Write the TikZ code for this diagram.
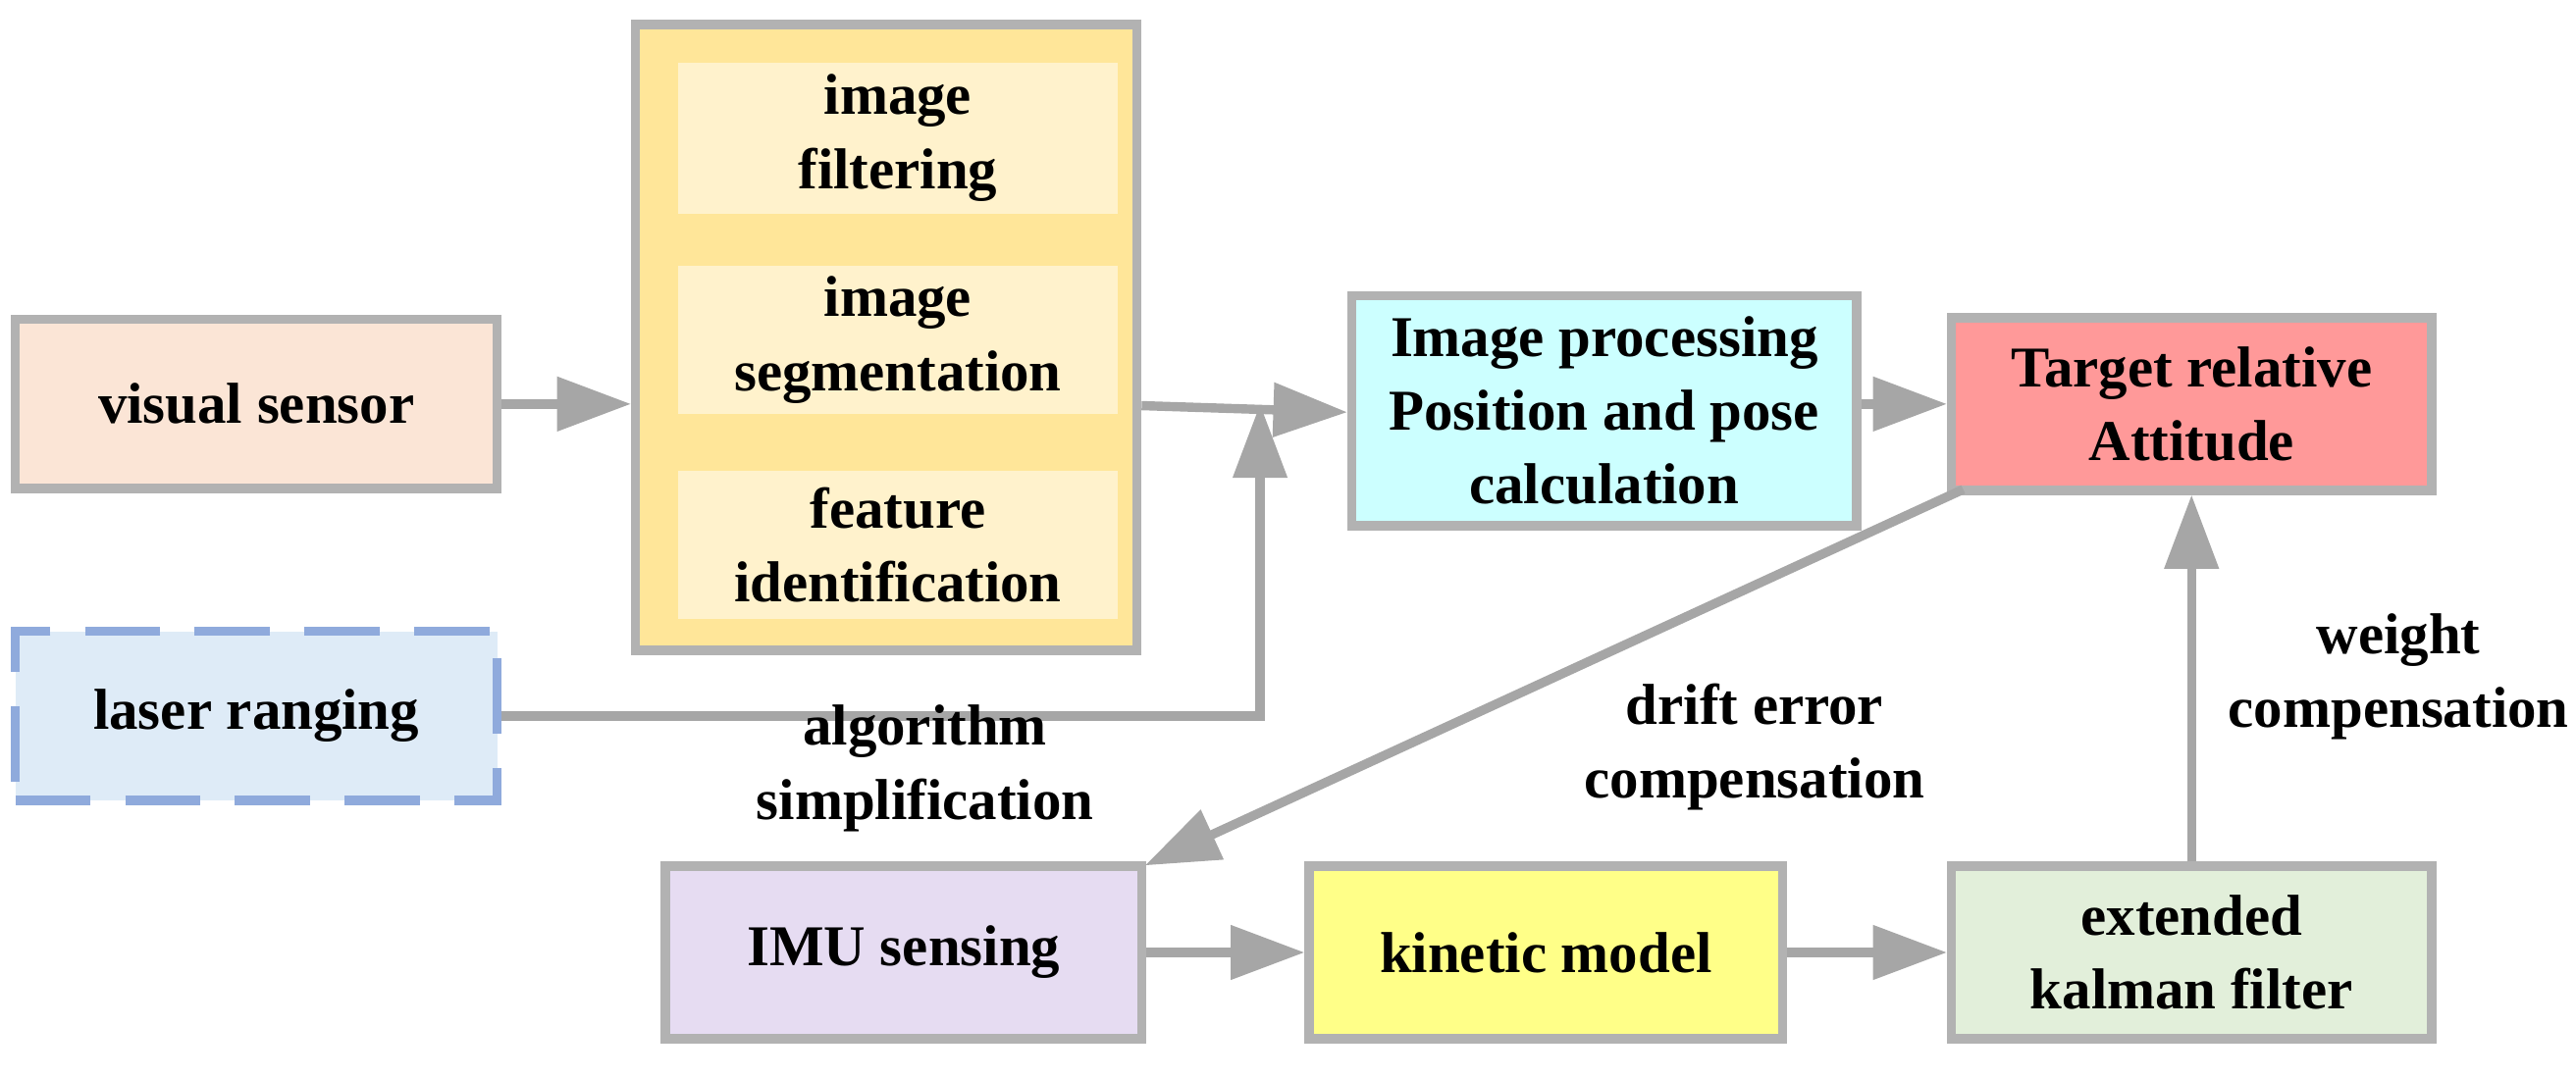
\documentclass[tikz,border=0pt]{standalone}
\usepackage{fontspec}
\setmainfont{Liberation Serif}
\usetikzlibrary{arrows.meta}
\begin{document}
\begin{tikzpicture}[x=0.01cm,y=-0.01cm,
 box/.style={draw=black!30,line width=1.6pt,inner sep=0pt,align=center,font=\fontsize{10}{12.8}\selectfont\bfseries},
 inner/.style={inner sep=0pt,align=center,font=\fontsize{10}{12.8}\selectfont\bfseries},
 arr/.style={draw=black!35,line width=1.6pt,-{Triangle[length=0.45cm,width=0.32cm]}},
 lab/.style={align=center,font=\fontsize{10}{12.8}\selectfont\bfseries}]
\useasboundingbox (0,0) rectangle (1568,656);
\definecolor{peach}{HTML}{FBE5D6}\definecolor{lblue}{HTML}{DEEBF7}\definecolor{dblue}{HTML}{8FAADC}
\definecolor{ybig}{HTML}{FFE699}\definecolor{ysmall}{HTML}{FFF2CC}
\definecolor{cyan1}{HTML}{CCFFFF}\definecolor{red1}{HTML}{FF9999}
\definecolor{purp}{HTML}{E6DCF2}\definecolor{yel}{HTML}{FFFF88}\definecolor{grn}{HTML}{E2EFDA}
\node[box,fill=peach,minimum width=2.93cm,minimum height=1.03cm] (vs) at (156,246) {visual sensor};
\node[box,fill=lblue,draw=dblue,dash pattern=on 13pt off 6pt,minimum width=2.93cm,minimum height=1.03cm] (lr) at (156,436) {laser ranging};
\node[box,fill=ybig,minimum width=3.05cm,minimum height=3.81cm] (big) at (539.5,205.5) {};
\node[inner,fill=ysmall,minimum width=2.67cm,minimum height=0.92cm] (f1) at (546.5,84) {image\\filtering};
\node[inner,fill=ysmall,minimum width=2.67cm,minimum height=0.90cm] (f2) at (546.5,207) {image\\segmentation};
\node[inner,fill=ysmall,minimum width=2.67cm,minimum height=0.90cm] (f3) at (546.5,332) {feature\\identification};
\node[box,fill=cyan1,minimum width=3.07cm,minimum height=1.40cm] (ip) at (976.5,250) {Image processing\\Position and pose\\calculation};
\node[box,fill=red1,minimum width=2.92cm,minimum height=1.05cm] (ta) at (1334,246) {Target relative\\Attitude};
\node[box,fill=purp,minimum width=2.90cm,minimum height=1.05cm] (imu) at (550,580) {IMU sensing};
\node[box,fill=yel,minimum width=2.88cm,minimum height=1.05cm] (km) at (941,580) {kinetic model};
\node[box,fill=grn,minimum width=2.92cm,minimum height=1.05cm] (ekf) at (1334,580) {extended\\kalman filter};
\draw[arr] (vs.east) -- (big.west|-vs.east);
\draw[arr] (big.east|-0,247) -- (ip.west|-0,251);
\draw[arr] (lr.east) -- (767,436) -- (767,246);
\draw[arr] (ip.east|-0,246) -- (ta.west|-0,246);
\draw[arr] (1195,298) -- (697,527);
\draw[arr] (imu) -- (km);
\draw[arr] (km) -- (ekf);
\draw[arr] (ekf) -- (ta);
\node[lab] at (563,468) {algorithm\\simplification};
\node[lab] at (1068,455) {drift error\\compensation};
\node[lab] at (1460,412) {weight\\compensation};
\end{tikzpicture}
\end{document}
